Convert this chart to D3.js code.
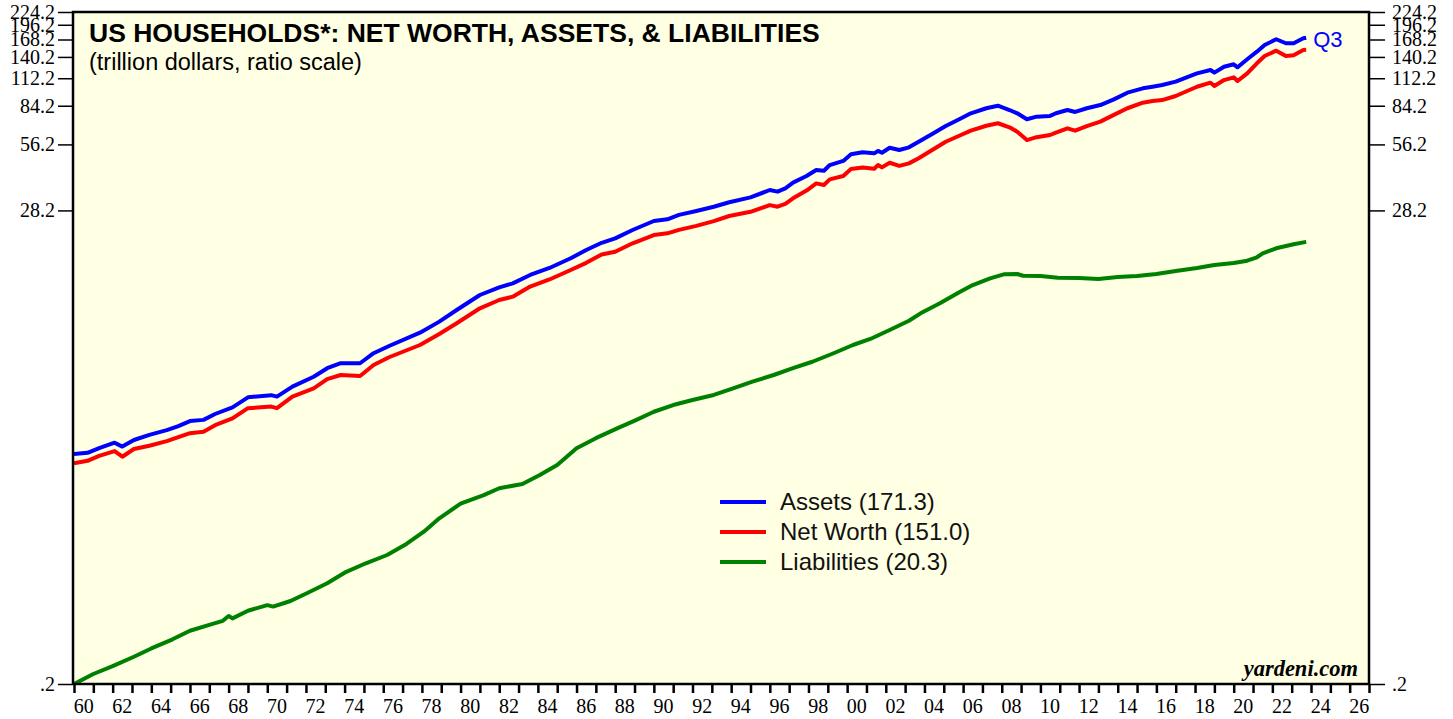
<!DOCTYPE html>
<html><head><meta charset="utf-8">
<script src="https://cdn.jsdelivr.net/npm/d3@7"></script>
<style>body{margin:0;background:#fff;} svg{display:block}</style>
</head><body><svg id="c" width="1453" height="719"></svg>
<script>
// ---- data (trillion dollars) ----
const nwYears = [1960.0,1960.7,1961.3,1962.1,1962.5,1963.1,1963.9,1964.8,1965.4,1966.0,
  1966.7,1967.3,1968.2,1969.0,1970.2,1970.5,1971.3,1972.4,1973.1,1973.8,
  1974.8,1975.5,1976.3,1977.9,1978.9,1979.8,1981.0,1982.0,1982.7,1983.6,
  1984.6,1985.7,1986.5,1987.3,1988.0,1988.9,1990.0,1990.7,1991.3,1992.2,
  1993.1,1993.9,1995.0,1996.0,1996.4,1996.8,1997.2,1997.9,1998.4,1998.8,
  1999.1,1999.8,2000.2,2000.8,2001.4,2001.6,2001.8,2002.2,2002.7,2003.2,
  2003.7,2004.4,2005.1,2005.8,2006.4,2007.2,2007.8,2008.4,2008.8,2009.3,
  2009.8,2010.5,2010.8,2011.4,2011.8,2012.4,2013.1,2013.8,2014.5,2015.3,
  2015.8,2016.3,2017.0,2018.1,2018.8,2019.0,2019.5,2020.0,2020.2,2020.7,
  2021.2,2021.6,2022.2,2022.7,2023.1,2023.6,2023.75];
const assets = [2.21,2.24,2.35,2.49,2.39,2.56,2.70,2.84,2.96,3.12,
  3.16,3.36,3.60,4.00,4.09,4.03,4.47,4.96,5.42,5.71,
  5.71,6.34,6.84,7.86,8.82,9.96,11.65,12.62,13.16,14.36,
  15.45,17.1,18.64,20.1,21.06,22.98,25.24,25.7,26.9,28.04,
  29.3,30.7,32.3,34.9,34.3,35.5,37.7,40.4,43.0,42.7,
  45.3,47.3,50.7,51.8,51.2,52.5,51.5,54.3,53.0,54.5,
  57.8,62.7,68.1,73.1,77.8,82.0,84.2,80.5,77.8,73.1,
  75.1,75.7,77.8,80.5,78.9,82.0,84.8,90.0,96.5,101.0,
  102.7,104.5,108.3,118.1,122.3,119.0,126.6,129.8,125.8,136.8,
  148.1,158.8,168.6,161.7,161.7,170.3,171.3];
const netWorth = [2.01,2.06,2.17,2.28,2.15,2.33,2.41,2.53,2.64,2.75,
  2.79,2.99,3.21,3.57,3.63,3.57,4.03,4.39,4.84,5.05,
  5.00,5.61,6.08,6.91,7.75,8.67,10.14,11.06,11.45,12.73,
  13.70,15.13,16.3,17.8,18.3,20.0,21.8,22.2,23.0,24.0,
  25.2,26.6,27.8,29.8,29.3,30.2,32.0,34.7,37.4,36.8,
  39.0,40.4,43.5,44.2,43.6,45.3,44.2,46.4,44.9,46.1,
  48.6,53.0,57.8,61.5,64.9,68.3,70.1,67.2,64.2,58.8,
  60.6,62.0,63.5,66.5,64.9,68.1,71.3,76.5,82.0,86.9,
  88.5,89.3,93.2,102.7,107.1,103.5,110.1,113.3,109.0,118.1,
  131.2,141.6,149.7,141.6,142.7,150.8,151.0];
const liabYears = [1960.0,1961.0,1962.0,1963.1,1964.0,1965.1,1966.0,1967.0,1967.7,1968.0,
  1968.2,1969.0,1970.0,1970.3,1971.2,1972.1,1973.1,1974.0,1975.1,1976.2,
  1977.2,1978.1,1978.9,1980.0,1981.2,1982.0,1983.2,1984.1,1985.0,1986.0,
  1987.0,1988.1,1989.1,1990.0,1991.0,1992.0,1993.1,1994.1,1995.1,1996.2,
  1997.2,1998.2,1999.3,2000.3,2001.2,2002.2,2003.2,2003.8,2004.8,2005.8,
  2006.5,2007.4,2008.1,2008.8,2009.1,2010.0,2010.9,2012.0,2013.0,2014.0,
  2015.0,2016.0,2017.0,2018.1,2019.0,2020.0,2020.7,2021.2,2021.5,2022.2,
  2023.1,2023.75];
const liabilities = [0.20,0.222,0.241,0.266,0.29,0.319,0.349,0.371,0.387,0.407,
  0.397,0.430,0.456,0.449,0.476,0.519,0.573,0.640,0.706,0.770,
  0.864,0.982,1.13,1.316,1.44,1.546,1.617,1.776,1.971,2.35,
  2.61,2.89,3.16,3.44,3.69,3.89,4.10,4.39,4.71,5.05,
  5.42,5.80,6.34,6.91,7.36,8.08,8.90,9.62,10.68,11.98,
  12.93,13.87,14.46,14.51,14.25,14.2,13.96,13.9,13.78,14.06,
  14.2,14.5,14.97,15.45,15.94,16.28,16.67,17.28,18.0,18.98,
  19.8,20.3];
const yTickValues = [0.2,28.2,56.2,84.2,112.2,140.2,168.2,196.2,224.2];
const yTickLabels = [".2","28.2","56.2","84.2","112.2","140.2","168.2","196.2","224.2"];
const xLabelYears = d3.range(1960, 2027, 2);
const legendLabels = ["Assets (171.3)","Net Worth (151.0)","Liabilities (20.3)"];
const seriesColors = ["#0000ff","#ff0000","#008000"];

// ---- layout ----
const P = {l:73, r:1369, t:12, b:684};
const svg = d3.select("#c");
const x = d3.scaleLinear().domain([1960,2027]).range([74,1369]);
const y = d3.scaleLog().domain([0.2,224.2]).range([P.b,P.t]);
const serif = "'Liberation Serif','Times New Roman',serif";
const sans = "'Liberation Sans',Arial,Helvetica,sans-serif";

svg.append("rect").attr("x",P.l).attr("y",P.t).attr("width",P.r-P.l).attr("height",P.b-P.t)
  .attr("fill","#ffffe3");

svg.append("defs").append("clipPath").attr("id","clip")
  .append("rect").attr("x",P.l).attr("y",P.t).attr("width",P.r-P.l).attr("height",P.b-P.t);

// y axes
const yl = svg.append("g").attr("transform",`translate(${P.l-1},0)`)
  .call(d3.axisLeft(y).tickValues(yTickValues).tickFormat((d,i)=>yTickLabels[i]).tickSize(14).tickPadding(3));
const yr = svg.append("g").attr("transform",`translate(${P.r+1},0)`)
  .call(d3.axisRight(y).tickValues(yTickValues).tickFormat((d,i)=>yTickLabels[i]).tickSize(15).tickPadding(7));
[yl,yr].forEach(g=>{
  g.select(".domain").remove();
  g.selectAll(".tick line").attr("stroke","#000").attr("stroke-width",1.5);
  g.selectAll(".tick text").attr("font-family",serif).attr("font-size",20).attr("fill","#000");
});

// x axis
const xa = svg.append("g").attr("transform",`translate(0,${P.b})`)
  .call(d3.axisBottom(x).tickValues(d3.range(1960,2028)).tickFormat("").tickSize(9));
xa.select(".domain").remove();
xa.selectAll(".tick line").attr("stroke","#000").attr("stroke-width",2.5);
svg.append("g").selectAll("text").data(xLabelYears).join("text")
  .attr("x",d=>x(d+0.5)).attr("y",713).attr("text-anchor","middle")
  .attr("font-family",serif).attr("font-size",20).attr("fill","#000")
  .text(d=>String(d%100).padStart(2,"0"));

// lines
const line = d3.line().x(d=>x(d[0])).y(d=>y(d[1]));
const series = [
  nwYears.map((t,i)=>[t,assets[i]]),
  nwYears.map((t,i)=>[t,netWorth[i]]),
  liabYears.map((t,i)=>[t,liabilities[i]])
];
const lg = svg.append("g").attr("clip-path","url(#clip)");
series.forEach((s,i)=>{
  lg.append("path").datum(s).attr("d",line).attr("fill","none")
    .attr("stroke",seriesColors[i]).attr("stroke-width",4).attr("stroke-linejoin","round");
});

// frame
svg.append("rect").attr("x",P.l).attr("y",P.t).attr("width",P.r-P.l).attr("height",P.b-P.t)
  .attr("fill","none").attr("stroke","#000").attr("stroke-width",2.5);

// title
svg.append("text").attr("x",89).attr("y",42).attr("font-family",sans).attr("font-weight","bold")
  .attr("font-size",26.5).attr("fill","#000").text("US HOUSEHOLDS*: NET WORTH, ASSETS, & LIABILITIES");
svg.append("text").attr("x",89).attr("y",70).attr("font-family",sans)
  .attr("font-size",23.5).attr("fill","#000").text("(trillion dollars, ratio scale)");

// Q3 label
const last = series[0][series[0].length-1];
svg.append("text").attr("x",x(last[0])+7).attr("y",y(last[1])+9).attr("font-family",sans)
  .attr("font-size",22).attr("fill","#0000ff").text("Q3");

// legend
const leg = svg.append("g");
legendLabels.forEach((t,i)=>{
  const yy = 502 + i*30;
  leg.append("line").attr("x1",720).attr("x2",766).attr("y1",yy).attr("y2",yy)
    .attr("stroke",seriesColors[i]).attr("stroke-width",4);
  leg.append("text").attr("x",780).attr("y",yy+8).attr("font-family",sans)
    .attr("font-size",24).attr("fill","#111").text(t);
});

// watermark
svg.append("text").attr("x",1358).attr("y",676).attr("text-anchor","end")
  .attr("font-family",serif).attr("font-weight","bold").attr("font-style","italic")
  .attr("font-size",22.5).attr("fill","#000").text("yardeni.com");
</script></body></html>
